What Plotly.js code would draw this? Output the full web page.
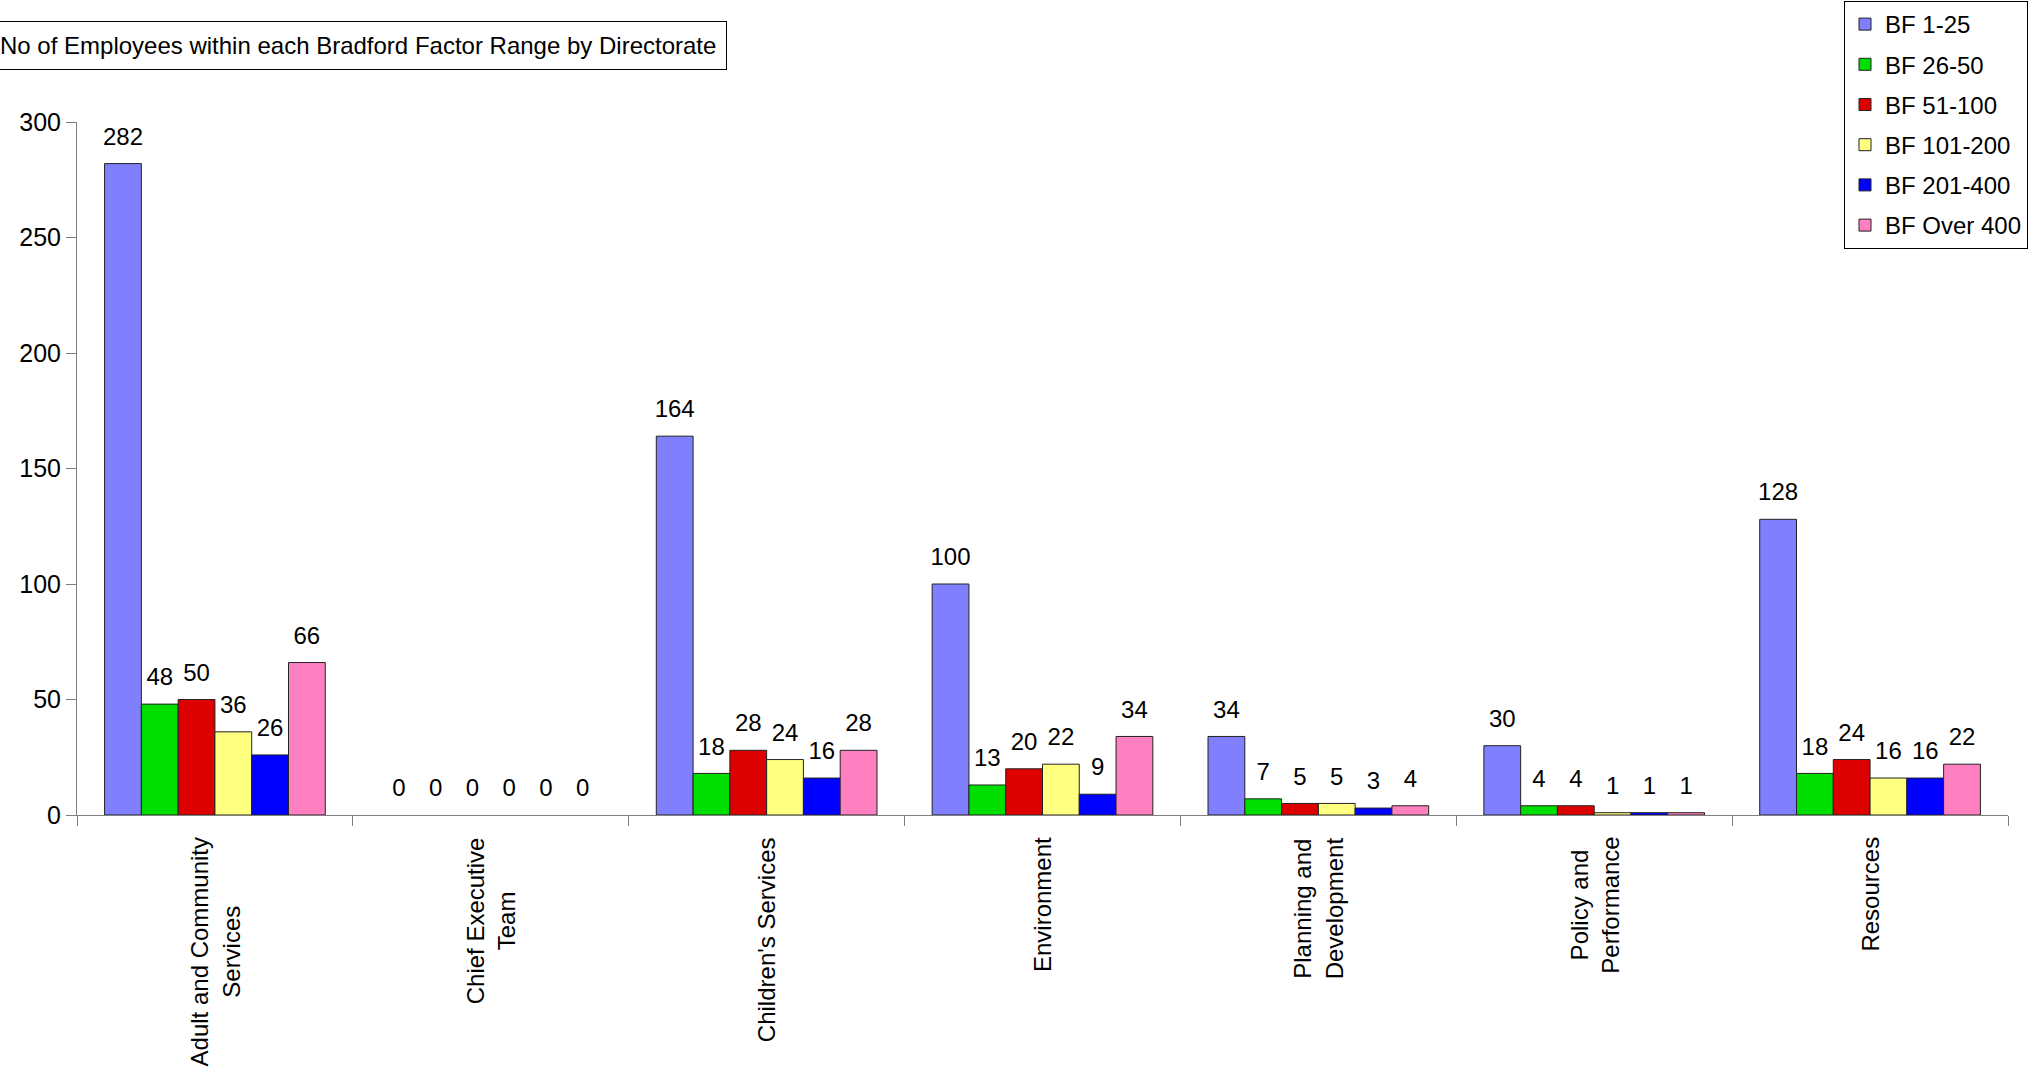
<!DOCTYPE html>
<html><head><meta charset="utf-8">
<script src="https://cdn.plot.ly/plotly-3.0.1.min.js"></script>
<style>html,body{margin:0;padding:0;background:#fff;overflow:hidden;} #chart{width:2035px;height:1073px;}</style>
</head><body><div id="chart"></div>
<script>
// ---- data ----
const categories = ["Adult and Community Services", "Chief Executive Team", "Children's Services", "Environment", "Planning and Development", "Policy and Performance", "Resources"];
const categoryLabels = ["Adult and Community<br>Services", "Chief Executive<br>Team", "Children's Services", "Environment", "Planning and<br>Development", "Policy and<br>Performance", "Resources"];
const seriesNames = ["BF 1-25", "BF 26-50", "BF 51-100", "BF 101-200", "BF 201-400", "BF Over 400"];
const bf1to25    = [282, 0, 164, 100, 34, 30, 128];
const bf26to50   = [48, 0, 18, 13, 7, 4, 18];
const bf51to100  = [50, 0, 28, 20, 5, 4, 24];
const bf101to200 = [36, 0, 24, 22, 5, 1, 16];
const bf201to400 = [26, 0, 16, 9, 3, 1, 16];
const bfOver400  = [66, 0, 28, 34, 4, 1, 22];
const yTickValues = [0, 50, 100, 150, 200, 250, 300];
const titleText = "No of Employees within each Bradford Factor Range by Directorate";

// ---- styles ----
const seriesColors = ["#8080ff", "#00dd00", "#dd0000", "#ffff80", "#0000ff", "#ff80c0"];
const FONT = "Liberation Sans, Arial, sans-serif";
const allSeries = [bf1to25, bf26to50, bf51to100, bf101to200, bf201to400, bfOver400];

// plot area in pixels
const W = 2035, H = 1073;
const L = 77, R = 2008, T = 122, B = 815;
const pw = R - L, ph = B - T;

const traces = [];
allSeries.forEach((vals, i) => {
  traces.push({
    type: "bar", x: categories,
    y: vals.map(v => (v === 0 ? null : v)), // zero-height bars draw no outline in the original
    name: seriesNames[i],
    legendgroup: "g" + i,
    marker: {color: seriesColors[i], line: {color: "#222222", width: 1}},
    hoverinfo: "skip", textposition: "none"
  });
});
allSeries.forEach((vals, i) => {
  traces.push({
    type: "scatter", mode: "markers+text", orientation: "v",
    x: categories, y: vals, text: vals.map(String),
    textposition: "top center",
    textfont: {family: FONT, size: 24, color: "#000000"},
    marker: {size: 19, color: "rgba(0,0,0,0)", line: {width: 0}},
    showlegend: false, hoverinfo: "skip", cliponaxis: false
  });
});

const annotations = [{
  text: titleText, xref: "paper", yref: "paper",
  x: (-11 - L) / pw, xanchor: "left",
  y: (B - 21) / ph, yanchor: "top",
  showarrow: false, bordercolor: "#000000", borderwidth: 1, borderpad: 10,
  bgcolor: "#ffffff", font: {family: FONT, size: 24, color: "#000000"}
}];
categories.forEach((c, i) => {
  annotations.push({
    text: categoryLabels[i], x: c, xref: "x", y: 0, yref: "paper",
    xanchor: "center", yanchor: "top", yshift: -20, textangle: -90,
    align: "center", showarrow: false,
    font: {family: FONT, size: 24, color: "#000000"}
  });
});

const layout = {
  width: W, height: H,
  margin: {l: L, r: W - R, t: T, b: H - B, pad: 0, autoexpand: false},
  paper_bgcolor: "#ffffff", plot_bgcolor: "#ffffff",
  font: {family: FONT, size: 24, color: "#000000"},
  barmode: "group", bargap: 0.2, bargroupgap: 0,
  scattermode: "group", scattergap: 0.2,
  hovermode: false,
  showlegend: true,
  legend: {
    x: (2028 - L) / pw, xanchor: "right",
    y: (B - 1) / ph, yanchor: "top",
    bordercolor: "#000000", borderwidth: 1, bgcolor: "#ffffff",
    font: {family: FONT, size: 24, color: "#000000"},
    traceorder: "grouped", tracegroupgap: 6
  },
  xaxis: {
    type: "category", categoryorder: "array", categoryarray: categories,
    tickson: "boundaries", ticks: "outside", ticklen: 10, tickcolor: "#808080", tickwidth: 1,
    showline: true, linecolor: "#808080", linewidth: 1,
    showticklabels: false, showgrid: false, zeroline: false, fixedrange: true
  },
  yaxis: {
    range: [0, 300], tickvals: yTickValues, ticktext: yTickValues.map(String),
    ticks: "outside", ticklen: 10, tickcolor: "#808080", tickwidth: 1,
    showline: true, linecolor: "#808080", linewidth: 1,
    showgrid: false, zeroline: false, fixedrange: true,
    tickfont: {family: FONT, size: 25, color: "#000000"}
  },
  annotations: annotations
};

Plotly.newPlot("chart", traces, layout, {displayModeBar: false, staticPlot: true});
</script>
</body></html>
